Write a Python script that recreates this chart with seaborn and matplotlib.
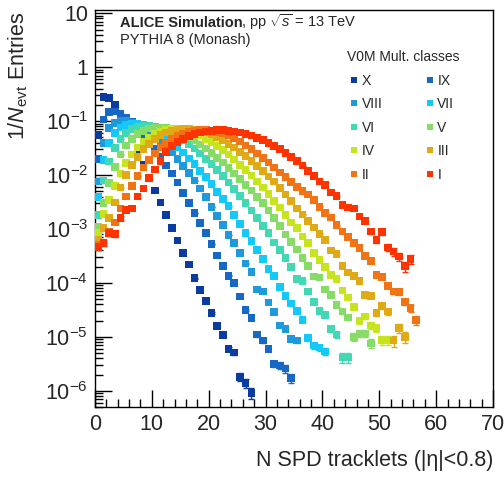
import numpy as np
import pandas as pd
import matplotlib
matplotlib.use("Agg")
import matplotlib.pyplot as plt
import seaborn as sns
from matplotlib.ticker import LogLocator, MultipleLocator, NullFormatter, FixedLocator, FixedFormatter

# ---------------- data ----------------
classes = ["X", "IX", "VIII", "VII", "VI", "V", "IV", "III", "II", "I"]
colors = ["#0b3b9e", "#1767c4", "#1f98dc", "#14c8f8", "#42d8b4",
          "#86dc66", "#c8e41e", "#e0aa16", "#f07416", "#ff3300"]
first_bin_center = 0.5   # bins are one tracklet wide

# log10(1/N_evt Entries) per bin, starting at N = 0.5
log_X = [-1.26, -0.55, -0.57, -0.70, -0.90, -1.12, -1.34, -1.56, -1.81, -2.05,
         -2.29, -2.51, -2.74, -2.98, -3.21, -3.44, -3.66, -3.91, -4.13, -4.33,
         -4.56, -4.80, -4.97, -5.22, -5.29, -5.74, -5.86, -6.04]
log_IX = [-1.70, -0.97, -0.83, -0.82, -0.86, -0.93, -1.02, -1.13, -1.25, -1.38,
          -1.52, -1.66, -1.82, -1.97, -2.14, -2.33, -2.52, -2.70, -2.89, -3.07,
          -3.28, -3.49, -3.69, -3.87, -4.00, -4.25, -4.50, -4.65, -4.96, -5.07,
          -5.22, -5.50, -5.53, -5.59, -5.76]
log_VIII = [-2.12, -1.40, -1.13, -1.03, -1.00, -1.00, -1.03, -1.07, -1.13, -1.20,
            -1.28, -1.37, -1.47, -1.58, -1.70, -1.83, -1.96, -2.10, -2.25, -2.41,
            -2.59, -2.76, -2.93, -3.11, -3.26, -3.44, -3.64, -3.80, -4.12, -4.16,
            -4.36, -4.54, -4.79, -4.85, -5.04, -5.07]
log_VII = [-2.41, -1.72, -1.40, -1.22, -1.12, -1.07, -1.05, -1.05, -1.07, -1.11,
           -1.16, -1.22, -1.30, -1.39, -1.48, -1.58, -1.69, -1.80, -1.92, -2.04,
           -2.17, -2.31, -2.44, -2.57, -2.74, -2.91, -3.07, -3.22, -3.39, -3.56,
           -3.74, -3.87, -4.08, -4.24, -4.38, -4.52, -4.69, -5.02, -5.16, -5.20,
           -5.27]
log_VI = [-2.74, -2.10, -1.75, -1.50, -1.33, -1.22, -1.15, -1.11, -1.09, -1.09,
          -1.10, -1.13, -1.17, -1.22, -1.28, -1.35, -1.43, -1.51, -1.60, -1.70,
          -1.80, -1.91, -2.02, -2.14, -2.26, -2.39, -2.52, -2.66, -2.80, -2.94,
          -3.08, -3.25, -3.39, -3.54, -3.71, -3.93, -3.96, -4.16, -4.35, -4.52,
          -4.60, -4.86, -4.96, -5.38, -5.38]
log_V = [-2.96, -2.52, -2.15, -1.85, -1.62, -1.45, -1.33, -1.24, -1.18, -1.14,
         -1.12, -1.12, -1.13, -1.15, -1.19, -1.24, -1.30, -1.36, -1.43, -1.51,
         -1.59, -1.68, -1.77, -1.87, -1.97, -2.07, -2.18, -2.29, -2.41, -2.52,
         -2.66, -2.80, -2.94, -3.10, -3.24, -3.38, -3.54, -3.69, -3.88, -3.90,
         -4.12, -4.22, -4.41, -4.53, -4.64, -5.00, -4.94, -4.94, -5.12]
log_IV = [-3.08, -2.72, -2.46, -2.20, -1.97, -1.78, -1.62, -1.49, -1.38, -1.30,
          -1.24, -1.19, -1.16, -1.15, -1.15, -1.16, -1.18, -1.22, -1.27, -1.33,
          -1.39, -1.46, -1.54, -1.62, -1.71, -1.81, -1.91, -2.01, -2.12, -2.23,
          -2.35, -2.48, -2.60, -2.74, -2.88, -2.98, -3.14, -3.26, -3.44, -3.57,
          -3.70, -3.85, -3.93, -4.14, -4.27, -4.45, -4.70, -4.62, -4.79, -4.84,
          -5.06, -5.06]
log_III = [-3.20, -2.98, -2.80, -2.51, -2.23, -2.00, -1.81, -1.66, -1.52, -1.42,
           -1.33, -1.26, -1.21, -1.18, -1.16, -1.15, -1.15, -1.16, -1.18, -1.21,
           -1.25, -1.30, -1.36, -1.42, -1.49, -1.57, -1.65, -1.74, -1.83, -1.93,
           -2.03, -2.12, -2.24, -2.36, -2.48, -2.62, -2.73, -2.85, -2.97, -3.09,
           -3.20, -3.40, -3.46, -3.69, -3.81, -3.87, -3.96, -4.22, -4.24, -4.56,
           -4.43, -4.53, -5.07, -4.84, -5.00]
log_II = [-3.30, -3.25, -3.05, -2.88, -2.62, -2.40, -2.20, -2.02, -1.86, -1.72,
          -1.60, -1.49, -1.40, -1.33, -1.27, -1.23, -1.20, -1.18, -1.17, -1.17,
          -1.18, -1.20, -1.23, -1.27, -1.32, -1.38, -1.45, -1.52, -1.60, -1.68,
          -1.77, -1.86, -1.95, -2.04, -2.13, -2.22, -2.30, -2.36, -2.46, -2.59,
          -2.70, -2.79, -2.93, -3.05, -3.15, -3.26, -3.35, -3.50, -3.59, -3.85,
          -3.89, -4.06, -4.16, -4.17, -4.35, -4.47, -4.69]
log_I = [-3.33, -3.26, -3.08, -3.09, -2.80, -2.65, -2.62, -2.40, -2.25, -2.05,
         -1.90, -1.74, -1.57, -1.46, -1.39, -1.33, -1.28, -1.24, -1.21, -1.19,
         -1.18, -1.17, -1.17, -1.18, -1.19, -1.21, -1.24, -1.27, -1.31, -1.35,
         -1.40, -1.46, -1.52, -1.59, -1.66, -1.74, -1.82, -1.92, -2.02, -2.12,
         -2.19, -2.32, -2.39, -2.56, -2.60, -2.62, -2.77, -2.85, -3.05, -3.20,
         -3.06, -3.34, -3.42, -3.51, -3.69, -3.56]
series_logs = [log_X, log_IX, log_VIII, log_VII, log_VI,
               log_V, log_IV, log_III, log_II, log_I]
# approximate number of generated events per class (sets the statistical error bars)
events_per_class = [2.0e7, 1.5e7, 1.0e7, 8.0e6, 5.0e6, 4.0e6, 3.0e6, 2.0e6, 1.5e6, 1.0e5]

x_ticks = [0, 10, 20, 30, 40, 50, 60, 70]
y_tick_values = [1e-6, 1e-5, 1e-4, 1e-3, 1e-2, 1e-1, 1, 10]
y_tick_labels = ["10$^{-6}$", "10$^{-5}$", "10$^{-4}$", "10$^{-3}$",
                 "10$^{-2}$", "10$^{-1}$", "1", "10"]

# ---------------- build table ----------------
rows = []
for cls, logs, nev in zip(classes, series_logs, events_per_class):
    for i, lv in enumerate(logs):
        val = 10.0 ** lv
        rows.append({"cls": cls, "n": first_bin_center + i, "val": val,
                     "err": np.sqrt(val / nev)})
df = pd.DataFrame(rows)

# ---------------- style ----------------
sns.set_theme(style="ticks")
plt.rcParams["font.family"] = ["Liberation Sans", "DejaVu Sans"]
plt.rcParams["mathtext.fontset"] = "custom"
plt.rcParams["mathtext.rm"] = "Liberation Sans"
plt.rcParams["mathtext.it"] = "Liberation Sans:italic"
plt.rcParams["mathtext.bf"] = "Liberation Sans:bold"

W, H = 504, 479
fig = plt.figure(figsize=(W / 100, H / 100), dpi=100)
ax = fig.add_axes([95 / W, 1 - 407 / H, (493 - 95) / W, (407 - 10) / H])
ax.set_yscale("log")

# error bars
for cls, col in zip(classes, colors):
    d = df[df.cls == cls]
    ax.errorbar(d.n, d.val, yerr=d.err, fmt="none", ecolor=col,
                elinewidth=1.0, capsize=2.2, capthick=1.0, zorder=2)

sns.scatterplot(data=df, x="n", y="val", hue="cls", hue_order=classes,
                palette=colors, marker="s", s=30, linewidth=0, ax=ax,
                zorder=3, legend=True)

ax.set_xlim(0, 70)
ax.set_ylim(5.0e-7, 11.5)

ax.xaxis.set_major_locator(FixedLocator(x_ticks))
ax.xaxis.set_minor_locator(MultipleLocator(2))
ax.yaxis.set_major_locator(FixedLocator(y_tick_values))
ax.yaxis.set_major_formatter(FixedFormatter(y_tick_labels))
ax.yaxis.set_minor_locator(LogLocator(base=10, subs=np.arange(2, 10)))
ax.yaxis.set_minor_formatter(NullFormatter())
ax.tick_params(axis="both", which="major", direction="in", length=12,
               width=1.0, labelsize=15.5, color="black", pad=5,
               top=False, right=False)
ax.tick_params(axis="both", which="minor", direction="in", length=6,
               width=1.0, color="black", top=False, right=False)
for sp in ax.spines.values():
    sp.set_visible(True)
    sp.set_linewidth(1.0)
    sp.set_color("black")

ax.set_xlabel("N SPD tracklets (|η|<0.8)", fontsize=15.5, loc="right")
ax.xaxis.set_label_coords(1.0, (407 - 450) / 397)
ax.set_ylabel("1/$\\it{N}_{\\rm evt}$ Entries", fontsize=15.5, loc="top")
ax.yaxis.set_label_coords((30 - 95) / 398, 0.995)

# annotation
t1 = ax.text(25 / 398, 1 - 17 / 397, "ALICE Simulation", transform=ax.transAxes,
             fontsize=10.5, fontweight="bold", va="baseline", ha="left")
fig.canvas.draw()
bb = t1.get_window_extent(renderer=fig.canvas.get_renderer())
x_end = ax.transAxes.inverted().transform((bb.x1 - 2.0, bb.y0))[0]
ax.text(x_end, 1 - 17 / 397, ", pp $\\sqrt{s}$ = 13 TeV",
        transform=ax.transAxes, fontsize=10.5, va="baseline", ha="left")
ax.text(25 / 398, 1 - 34 / 397, "PYTHIA 8 (Monash)", transform=ax.transAxes,
        fontsize=10.5, va="baseline", ha="left")

# legend: row-wise X, IX / VIII, VII / ...
handles, labels = ax.get_legend_handles_labels()
hmap = dict(zip(labels, handles))
order = ["X", "VIII", "VI", "IV", "II", "IX", "VII", "V", "III", "I"]
leg = ax.legend([hmap[k] for k in order], order, ncol=2, frameon=False,
                title="V0M Mult. classes", title_fontsize=10, fontsize=10,
                loc="upper left", bbox_to_anchor=(0.602, 0.93),
                markerscale=0.8, handletextpad=0.05, columnspacing=2.9,
                labelspacing=0.68, handlelength=1.0, alignment="left")

fig.savefig("out.png", dpi=100)
